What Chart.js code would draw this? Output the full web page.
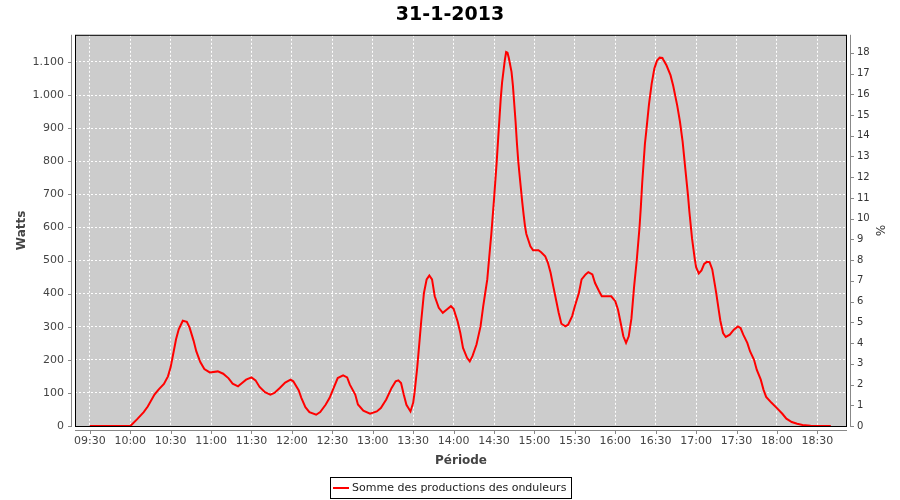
<!DOCTYPE html>
<html>
<head>
<meta charset="utf-8">
<title>31-1-2013</title>
<script src="https://cdn.jsdelivr.net/npm/chart.js@4.4.1/dist/chart.umd.min.js"></script>
<style>
html, body { margin: 0; padding: 0; background: #fff; }
#box { width: 900px; height: 500px; }
</style>
</head>
<body>
<div id="box"><canvas id="lineChart"></canvas></div>
<script>
const chartTitle = "31-1-2013";
const seriesLabel = "Somme des productions des onduleurs";

// time of each reading and total power (W)
const times = [
  "09:30","10:00","10:01","10:05","10:10","10:13","10:18","10:21","10:25","10:28",
  "10:30","10:32","10:34","10:36","10:39","10:42","10:44","10:47","10:49","10:52",
  "10:55","10:59","11:05","11:09","11:13","11:16","11:20","11:23","11:26","11:30",
  "11:33","11:36","11:40","11:44","11:47","11:51","11:55","11:59","12:01","12:05",
  "12:07","12:10","12:13","12:18","12:21","12:25","12:28","12:31","12:34","12:38",
  "12:41","12:43","12:47","12:49","12:53","12:58","13:03","13:06","13:10","13:14",
  "13:17","13:19","13:21","13:23","13:25","13:28","13:30","13:31","13:33","13:35",
  "13:36","13:38","13:40","13:42","13:44","13:46","13:49","13:52","13:55","13:58",
  "14:00","14:03","14:05","14:07","14:10","14:12","14:14","14:17","14:20","14:22",
  "14:25","14:27","14:28","14:30","14:32","14:33","14:35","14:36","14:38","14:39",
  "14:40","14:41","14:43","14:44","14:46","14:47","14:48","14:49","14:51","14:52",
  "14:53","14:54","14:57","14:59","15:03","15:05","15:08","15:10","15:12","15:14",
  "15:16","15:18","15:20","15:23","15:25","15:28","15:30","15:33","15:35","15:38",
  "15:40","15:43","15:45","15:48","15:50","15:54","15:57","16:00","16:02","16:04",
  "16:06","16:08","16:10","16:12","16:14","16:16","16:18","16:19","16:20","16:22",
  "16:23","16:25","16:27","16:29","16:31","16:33","16:35","16:36","16:38","16:41",
  "16:43","16:46","16:48","16:50","16:52","16:54","16:55","16:57","16:59","17:00",
  "17:02","17:04","17:06","17:08","17:10","17:12","17:14","17:15","17:17","17:18",
  "17:20","17:22","17:25","17:28","17:31","17:33","17:35","17:38","17:40","17:43",
  "17:45","17:48","17:50","17:52","17:56","18:00","18:04","18:07","18:11","18:15",
  "18:19","18:25","18:30","18:40"
];
const watts = [
  0,0,4,20,42,59,95,110,127,150,
  178,220,262,292,318,315,298,258,226,193,
  172,162,165,158,144,128,120,130,140,147,
  138,118,102,95,100,115,131,140,135,108,
  85,57,42,34,42,64,85,115,145,153,
  147,125,95,65,46,37,44,54,80,115,
  135,138,130,95,64,44,70,100,176,270,
  318,402,443,455,443,392,357,342,352,362,
  354,316,281,236,206,195,211,246,301,362,
  443,535,580,685,798,863,990,1038,1105,1130,
  1128,1112,1070,1030,920,855,800,757,675,638,
  604,580,543,531,531,525,513,493,463,422,
  382,342,309,301,306,332,362,402,443,458,
  465,458,432,407,392,392,392,377,352,312,
  271,251,271,325,422,503,600,663,735,852,
  890,971,1034,1080,1104,1113,1112,1104,1090,1060,
  1028,968,920,859,777,696,648,566,505,480,
  461,470,490,496,495,473,425,400,345,318,
  281,269,276,291,301,296,276,251,226,200,
  170,140,110,88,70,54,37,22,12,7,
  3,1,0,0
];

// axis ranges
const timeMin = "09:19";
const timeMax = "18:52";
const wattsMax = 1182;
const percentMax = 18.87;

function toMin(t) {
  const p = t.split(":");
  return parseInt(p[0]) * 60 + parseInt(p[1]);
}
function fmtTime(v) {
  const h = Math.floor(v / 60), m = v % 60;
  return (h < 10 ? "0" : "") + h + ":" + (m < 10 ? "0" : "") + m;
}
function fmtWatts(v) {
  return v.toString().replace(/\B(?=(\d{3})+(?!\d))/g, ".");
}

const points = times.map((t, i) => ({x: toMin(t), y: watts[i]}));

Chart.defaults.font.family = "'DejaVu Sans', sans-serif";

// grey plot, black outline, offset axis lines with small tick marks
const plotFrame = {
  id: "plotFrame",
  beforeDraw(chart) {
    const {ctx, chartArea: a} = chart;
    ctx.save();
    ctx.fillStyle = "#cccccc";
    ctx.fillRect(a.left, a.top, a.right - a.left, a.bottom - a.top);
    ctx.restore();
  },
  beforeDatasetsDraw(chart) {
    const {ctx, chartArea: a, scales} = chart;
    ctx.save();
    ctx.lineWidth = 1;
    ctx.strokeStyle = "#000";
    ctx.strokeRect(a.left + 0.5, a.top + 0.5, a.right - a.left - 1, a.bottom - a.top);

    ctx.strokeStyle = "#888";
    ctx.beginPath();
    // left
    ctx.moveTo(a.left - 3.5, a.top);
    ctx.lineTo(a.left - 3.5, a.bottom + 1);
    scales.y.ticks.forEach(t => {
      const py = Math.round(scales.y.getPixelForValue(t.value)) + 0.5;
      ctx.moveTo(a.left - 7, py);
      ctx.lineTo(a.left - 3.5, py);
    });
    // right
    ctx.moveTo(a.right + 3.5, a.top);
    ctx.lineTo(a.right + 3.5, a.bottom + 1);
    scales.y1.ticks.forEach(t => {
      const py = Math.round(scales.y1.getPixelForValue(t.value)) + 0.5;
      ctx.moveTo(a.right + 3.5, py);
      ctx.lineTo(a.right + 7, py);
    });
    // bottom
    ctx.moveTo(a.left, a.bottom + 4.5);
    ctx.lineTo(a.right, a.bottom + 4.5);
    scales.x.ticks.forEach(t => {
      const px = Math.round(scales.x.getPixelForValue(t.value)) + 0.5;
      ctx.moveTo(px, a.bottom + 4.5);
      ctx.lineTo(px, a.bottom + 8);
    });
    ctx.stroke();
    ctx.restore();
  }
};

// legend drawn as a boxed item below the chart
const legendBox = {
  id: "legendBox",
  afterDraw(chart) {
    const ctx = chart.ctx;
    const ds = chart.data.datasets[0];
    ctx.save();
    ctx.font = "11px 'DejaVu Sans'";
    const tw = ctx.measureText(ds.label).width;
    const w = Math.round(tw + 27), h = 21;
    const x = Math.round((chart.width - w) / 2), y = chart.height - 23;
    ctx.strokeStyle = "#000";
    ctx.lineWidth = 1;
    ctx.strokeRect(x + 0.5, y + 0.5, w, h);
    ctx.strokeStyle = ds.borderColor;
    ctx.lineWidth = 2;
    ctx.beginPath();
    ctx.moveTo(x + 3, y + 11);
    ctx.lineTo(x + 19, y + 11);
    ctx.stroke();
    ctx.fillStyle = "#222";
    ctx.textBaseline = "middle";
    ctx.fillText(ds.label, x + 22, y + 11);
    ctx.restore();
  }
};

const tickFont = {size: 11};
const ctx = document.getElementById("lineChart");
let chart = new Chart(ctx, {
  type: "line",
  data: {
    datasets: [{
      label: seriesLabel,
      data: points,
      borderColor: "#ff0000",
      borderWidth: 2,
      pointRadius: 0,
      fill: false,
      tension: 0,
      yAxisID: "y"
    }]
  },
  options: {
    responsive: true,
    maintainAspectRatio: false,
    animation: false,
    layout: { padding: { bottom: 28 } },
    plugins: {
      legend: { display: false },
      tooltip: { enabled: false },
      title: {
        display: true,
        text: chartTitle,
        color: "#000",
        font: { size: 19, weight: "bold" },
        padding: { top: 4, bottom: 8 }
      }
    },
    scales: {
      x: {
        type: "linear",
        min: toMin(timeMin),
        max: toMin(timeMax),
        afterFit: s => { s.height = 46; },
        grid: { color: "#ffffff", lineWidth: 1, drawTicks: false },
        border: { display: false, dash: [2, 2] },
        ticks: {
          stepSize: 30,
          includeBounds: false,
          autoSkip: false,
          maxRotation: 0,
          padding: 9,
          color: "#444",
          font: tickFont,
          callback: v => fmtTime(v)
        },
        title: {
          display: true,
          text: "Période",
          color: "#444",
          font: { size: 12, weight: "bold" },
          padding: { top: 0, bottom: 4 }
        }
      },
      y: {
        position: "left",
        min: 0,
        max: wattsMax,
        afterFit: s => { s.width = 75; },
        grid: { color: "#ffffff", lineWidth: 1, drawTicks: false },
        border: { display: false, dash: [2, 2] },
        ticks: {
          stepSize: 100,
          includeBounds: false,
          autoSkip: false,
          padding: 11,
          color: "#444",
          font: tickFont,
          callback: v => fmtWatts(v)
        },
        title: {
          display: true,
          text: "Watts",
          color: "#444",
          font: { size: 12, weight: "bold" },
          padding: { top: 15, bottom: 0 }
        }
      },
      y1: {
        position: "right",
        min: 0,
        max: percentMax,
        afterFit: s => { s.width = 53; },
        grid: { display: false, drawTicks: false },
        border: { display: false },
        ticks: {
          stepSize: 1,
          includeBounds: false,
          autoSkip: false,
          padding: 10,
          color: "#333",
          font: { size: 10 }
        },
        title: {
          display: true,
          text: "%",
          color: "#333",
          font: { size: 12 },
          padding: { top: 14, bottom: 0 }
        }
      }
    }
  },
  plugins: [plotFrame, legendBox]
});
</script>
</body>
</html>
